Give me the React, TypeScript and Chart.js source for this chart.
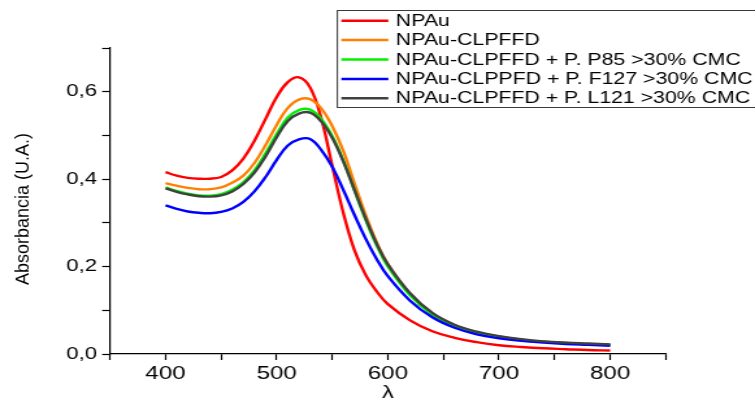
import React, { useEffect, useRef } from 'react';
import { Chart, registerables } from 'chart.js';

Chart.register(...registerables);

// ---- data ----
const WAVELENGTHS = [400, 410, 420, 430, 440, 450, 460, 470, 480, 490, 500, 510, 520, 530, 540, 550, 560, 570, 580, 590, 600, 620, 640, 660, 680, 700, 720, 740, 760, 780, 800];

const NPAU = [0.416, 0.408, 0.403, 0.401, 0.401, 0.405, 0.420, 0.447, 0.488, 0.538, 0.588, 0.622, 0.633, 0.610, 0.540, 0.430, 0.322, 0.237, 0.181, 0.143, 0.114, 0.077, 0.052, 0.037, 0.027, 0.020, 0.016, 0.013, 0.011, 0.009, 0.008];
const NPAU_CLPFFD = [0.391, 0.385, 0.380, 0.377, 0.377, 0.381, 0.392, 0.408, 0.437, 0.478, 0.524, 0.563, 0.582, 0.583, 0.562, 0.521, 0.464, 0.390, 0.318, 0.255, 0.206, 0.137, 0.092, 0.066, 0.050, 0.040, 0.033, 0.028, 0.025, 0.023, 0.021];
const NPAU_P85 = [0.381, 0.373, 0.367, 0.363, 0.362, 0.366, 0.376, 0.393, 0.420, 0.459, 0.503, 0.541, 0.558, 0.559, 0.538, 0.498, 0.442, 0.374, 0.307, 0.248, 0.200, 0.134, 0.090, 0.064, 0.049, 0.039, 0.032, 0.028, 0.025, 0.022, 0.021];
const NPAU_F127 = [0.340, 0.332, 0.326, 0.323, 0.322, 0.325, 0.333, 0.348, 0.372, 0.405, 0.444, 0.477, 0.491, 0.492, 0.467, 0.428, 0.375, 0.318, 0.264, 0.217, 0.178, 0.122, 0.084, 0.060, 0.045, 0.036, 0.030, 0.026, 0.023, 0.021, 0.019];
const NPAU_L121 = [0.379, 0.371, 0.365, 0.361, 0.360, 0.363, 0.372, 0.389, 0.415, 0.452, 0.496, 0.533, 0.550, 0.552, 0.532, 0.494, 0.440, 0.375, 0.310, 0.252, 0.205, 0.139, 0.094, 0.067, 0.051, 0.041, 0.034, 0.029, 0.026, 0.024, 0.022];

const SERIES_LABELS = [
  'NPAu',
  'NPAu-CLPFFD',
  'NPAu-CLPFFD + P. P85 >30% CMC',
  'NPAu-CLPPFD + P. F127 >30% CMC',
  'NPAu-CLPFFD + P. L121 >30% CMC',
];
const SERIES_VALUES = [NPAU, NPAU_CLPFFD, NPAU_P85, NPAU_F127, NPAU_L121];
const SERIES_COLORS = ['#ff0000', '#ff8000', '#00f000', '#0000ff', '#404040'];

const X_TICK_VALUES = [400, 500, 600, 700, 800];
const X_TICK_LABELS = ['400', '500', '600', '700', '800'];
const Y_TICK_VALUES = [0, 0.2, 0.4, 0.6];
const Y_TICK_LABELS = ['0,0', '0,2', '0,4', '0,6'];

const X_TITLE = 'λ';
const Y_TITLE = 'Absorbancia (U.A.)';

// ---- layout ----
const W = 755;
const H = 404;
const STRETCH = 1.3;
const IW = Math.round(W / STRETCH);
const FONT = '"Liberation Sans", Arial, sans-serif';

const yTitlePlugin = {
  id: 'yTitleStretchFree',
  afterDraw(chart: any) {
    const ctx = chart.ctx;
    ctx.save();
    ctx.translate(23 / STRETCH, 209);
    ctx.scale(1 / STRETCH, 1);
    ctx.rotate(-Math.PI / 2);
    ctx.font = `18px ${FONT}`;
    ctx.fillStyle = '#000';
    ctx.textAlign = 'center';
    ctx.textBaseline = 'middle';
    ctx.fillText(Y_TITLE, 0, 0);
    ctx.restore();
  },
};

const boxLegendPlugin = {
  id: 'boxLegend',
  afterDraw(chart: any) {
    const ctx = chart.ctx;
    const left = 337.5 / STRETCH;
    const top = 10.5;
    const bottom = 107.5;
    const right = IW + 2;
    ctx.save();
    ctx.fillStyle = '#ffffff';
    ctx.fillRect(left, top, right - left, bottom - top);
    ctx.strokeStyle = '#3a3a3a';
    ctx.lineWidth = 1;
    ctx.strokeRect(left, top, right - left, bottom - top);
    chart.data.datasets.forEach((ds: any, i: number) => {
      const y = 20.7 + i * 19.4;
      ctx.strokeStyle = ds.borderColor;
      ctx.lineWidth = 2.5;
      ctx.beginPath();
      ctx.moveTo(341.5 / STRETCH, y);
      ctx.lineTo(388.5 / STRETCH, y);
      ctx.stroke();
      ctx.fillStyle = '#000';
      ctx.font = `16.4px ${FONT}`;
      ctx.textAlign = 'left';
      ctx.textBaseline = 'middle';
      ctx.fillText(ds.label, 396 / STRETCH, y + 0.5);
    });
    ctx.restore();
  },
};

export default function App() {
  const canvasRef = useRef<HTMLCanvasElement | null>(null);

  useEffect(() => {
    const canvas = canvasRef.current;
    if (!canvas) return;
    const datasets = SERIES_LABELS.map((label, i) => ({
      label,
      data: WAVELENGTHS.map((x, j) => ({ x, y: SERIES_VALUES[i][j] })),
      borderColor: SERIES_COLORS[i],
      backgroundColor: SERIES_COLORS[i],
      borderWidth: 2.4,
      pointRadius: 0,
      fill: false,
      tension: 0.4,
      order: SERIES_LABELS.length - i,
    }));

    const chart = new Chart(canvas, {
      type: 'line',
      data: { datasets },
      plugins: [yTitlePlugin, boxLegendPlugin],
      options: {
        animation: false,
        responsive: false,
        devicePixelRatio: 1,
        layout: {
          padding: { left: 0, top: 48, right: IW - 666 / STRETCH, bottom: 0 },
        },
        plugins: {
          legend: { display: false },
          tooltip: { enabled: false },
        },
        scales: {
          x: {
            type: 'linear',
            min: 350,
            max: 850,
            afterFit: (scale: any) => {
              scale.height = 50;
            },
            border: { display: true, color: '#000', width: 1.2 },
            grid: {
              display: true,
              drawOnChartArea: false,
              drawTicks: true,
              tickLength: 6,
              tickColor: '#000',
              tickWidth: 1.2,
            },
            ticks: {
              stepSize: 50,
              autoSkip: false,
              maxRotation: 0,
              padding: 3,
              color: '#000',
              font: { family: FONT, size: 18.6 },
              callback: (value: any) => {
                const idx = X_TICK_VALUES.indexOf(Math.round(Number(value)));
                return idx >= 0 ? X_TICK_LABELS[idx] : '';
              },
            },
            title: {
              display: true,
              text: X_TITLE,
              color: '#000',
              font: { family: FONT, size: 18 },
              padding: { top: 0, bottom: 0 },
            },
          },
          y: {
            type: 'linear',
            min: 0,
            max: 0.7,
            afterFit: (scale: any) => {
              scale.width = 110 / STRETCH;
            },
            border: { display: true, color: '#000', width: 1.2 },
            grid: {
              display: true,
              drawOnChartArea: false,
              drawTicks: true,
              tickLength: 6,
              tickColor: '#000',
              tickWidth: 1.2,
            },
            ticks: {
              stepSize: 0.1,
              autoSkip: false,
              padding: 4,
              color: '#000',
              font: { family: FONT, size: 17 },
              callback: (value: any) => {
                const v = Math.round(Number(value) * 10) / 10;
                const idx = Y_TICK_VALUES.findIndex((t) => Math.abs(t - v) < 1e-6);
                return idx >= 0 ? Y_TICK_LABELS[idx] : '';
              },
            },
          },
        },
      },
    });

    return () => {
      chart.destroy();
    };
  }, []);

  return (
    <div style={{ position: 'fixed', left: 0, top: 0, width: W, height: H, background: '#fff' }}>
      <canvas
        ref={canvasRef}
        width={IW}
        height={H}
        style={{ width: `${W}px`, height: `${H}px`, display: 'block' }}
      />
    </div>
  );
}
